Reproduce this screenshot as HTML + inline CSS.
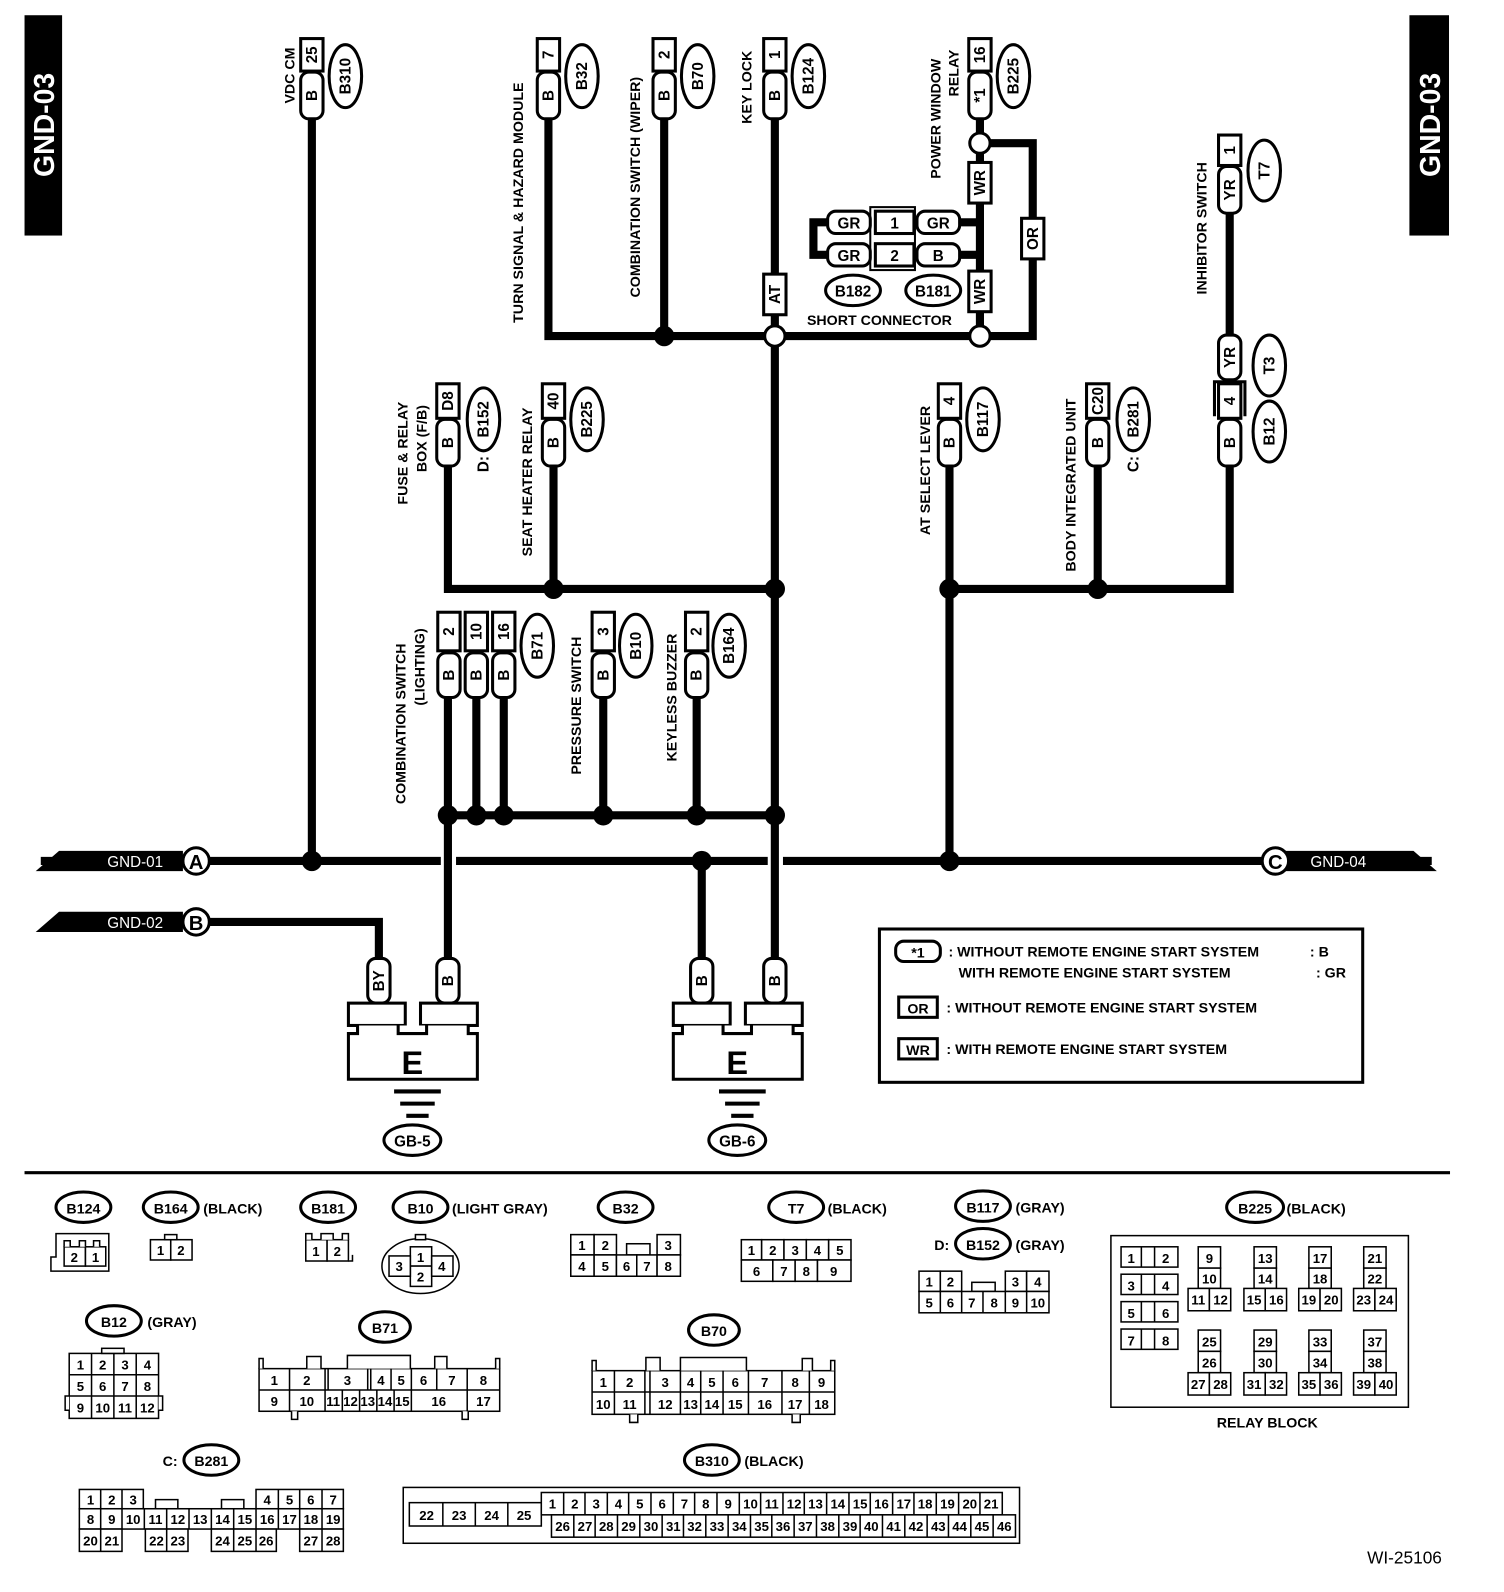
<!DOCTYPE html>
<html><head><meta charset="utf-8"><style>
html,body{margin:0;padding:0;background:#fff}
svg{display:block}
text{font-family:"Liberation Sans",sans-serif;font-weight:bold;fill:#000}
</style></head><body>
<svg width="1504" height="1592" viewBox="0 0 1481 1568" xmlns="http://www.w3.org/2000/svg">
<defs><style>
.w{stroke:#000;stroke-width:8;fill:none}
.b{fill:#fff;stroke:#000;stroke-width:3}
.t{font-size:15px}
.s{font-size:14px}
.c{fill:#fff;stroke:#000;stroke-width:1.5}
.cs{font-size:13px;font-weight:normal}
</style></defs>

<!-- GND-03 tabs -->
<rect x="24" y="15" width="37" height="217" fill="#000"/>
<text transform="translate(53,123) rotate(-90)" text-anchor="middle" style="font-size:28px;fill:#fff">GND-03</text>
<rect x="1388" y="15" width="39" height="217" fill="#000"/>
<text transform="translate(1418,123) rotate(-90)" text-anchor="middle" style="font-size:28px;fill:#fff">GND-03</text>

<!-- wires -->
<path class="w" d="M40 848H1410"/>
<rect x="434" y="840" width="15" height="16" fill="#fff"/>
<rect x="756" y="840" width="15" height="16" fill="#fff"/>
<path class="w" d="M206 908H373V945"/>
<path class="w" d="M307 116V848"/>
<path class="w" d="M540 116V331H965"/>
<path class="w" d="M654 116V331"/>
<path class="w" d="M763 116V945"/>
<path class="w" d="M965 116V331"/>
<path class="w" d="M965 141H1017V331H965"/>
<path class="w" d="M441 459V580H763"/>
<path class="w" d="M545 459V580"/>
<path class="w" d="M935 459V848"/>
<path class="w" d="M935 580H1081"/>
<path class="w" d="M1081 459V580H1211V459"/>
<path class="w" d="M1211 210V330"/>
<path class="w" d="M441 687V945"/>
<path class="w" d="M469 687V803"/>
<path class="w" d="M496 687V803"/>
<path class="w" d="M594 687V803"/>
<path class="w" d="M686 687V803"/>
<path class="w" d="M441 803H763"/>
<path class="w" d="M691 848V945"/>
<!-- short connector wires -->
<path class="w" d="M943 219H965"/>
<path class="w" d="M943 251H965"/>
<path class="w" d="M818 219H801V251H818"/>

<!-- dots -->
<g fill="#000">
<circle cx="307" cy="848" r="10"/><circle cx="935" cy="848" r="10"/><circle cx="691" cy="848" r="10"/>
<circle cx="654" cy="331" r="10"/>
<circle cx="545" cy="580" r="10"/><circle cx="763" cy="580" r="10"/>
<circle cx="935" cy="580" r="10"/><circle cx="1081" cy="580" r="10"/>
<circle cx="441" cy="803" r="10"/><circle cx="469" cy="803" r="10"/><circle cx="496" cy="803" r="10"/>
<circle cx="594" cy="803" r="10"/><circle cx="686" cy="803" r="10"/><circle cx="763" cy="803" r="10"/>
</g>
<circle cx="763" cy="331" r="10" class="b"/>
<circle cx="965" cy="331" r="10" class="b"/>
<circle cx="965" cy="141" r="10" class="b"/>

<!-- GND banners -->
<polygon points="35,858 58,838 180,838 180,858" fill="#000"/>
<text x="133" y="854" text-anchor="middle" style="font-size:15px;fill:#fff;font-weight:normal">GND-01</text>
<circle cx="193" cy="848" r="13" class="b"/><text x="193" y="856" text-anchor="middle" style="font-size:20px">A</text>
<polygon points="35,918 58,898 180,898 180,918" fill="#000"/>
<text x="133" y="914" text-anchor="middle" style="font-size:15px;fill:#fff;font-weight:normal">GND-02</text>
<circle cx="193" cy="908" r="13" class="b"/><text x="193" y="916" text-anchor="middle" style="font-size:20px">B</text>
<polygon points="1256,838 1392,838 1415,858 1256,858" fill="#000"/>
<text x="1318" y="854" text-anchor="middle" style="font-size:15px;fill:#fff;font-weight:normal">GND-04</text>
<circle cx="1256" cy="848" r="13" class="b"/><text x="1256" y="856" text-anchor="middle" style="font-size:20px">C</text>

<!-- top connectors -->
<g class="t">
<rect x="296" y="38" width="22" height="32" class="b"/><text transform="translate(312,54) rotate(-90)" text-anchor="middle">25</text>
<rect x="296" y="71" width="22" height="46" rx="8" class="b"/><text transform="translate(312,94) rotate(-90)" text-anchor="middle">B</text>
<ellipse cx="340" cy="75" rx="16" ry="31" class="b"/><text transform="translate(345,75) rotate(-90)" text-anchor="middle">B310</text>
<text transform="translate(290,102) rotate(-90)" class="s">VDC CM</text>
<rect x="529" y="38" width="22" height="32" class="b"/><text transform="translate(545,54) rotate(-90)" text-anchor="middle">7</text>
<rect x="529" y="71" width="22" height="46" rx="8" class="b"/><text transform="translate(545,94) rotate(-90)" text-anchor="middle">B</text>
<ellipse cx="573" cy="75" rx="16" ry="31" class="b"/><text transform="translate(578,75) rotate(-90)" text-anchor="middle">B32</text>
<text transform="translate(515,318) rotate(-90)" class="s">TURN SIGNAL &amp; HAZARD MODULE</text>
<rect x="643" y="38" width="22" height="32" class="b"/><text transform="translate(659,54) rotate(-90)" text-anchor="middle">2</text>
<rect x="643" y="71" width="22" height="46" rx="8" class="b"/><text transform="translate(659,94) rotate(-90)" text-anchor="middle">B</text>
<ellipse cx="687" cy="75" rx="16" ry="31" class="b"/><text transform="translate(692,75) rotate(-90)" text-anchor="middle">B70</text>
<text transform="translate(630,293) rotate(-90)" class="s">COMBINATION SWITCH (WIPER)</text>
<rect x="752" y="38" width="22" height="32" class="b"/><text transform="translate(768,54) rotate(-90)" text-anchor="middle">1</text>
<rect x="752" y="71" width="22" height="46" rx="8" class="b"/><text transform="translate(768,94) rotate(-90)" text-anchor="middle">B</text>
<ellipse cx="796" cy="75" rx="16" ry="31" class="b"/><text transform="translate(801,75) rotate(-90)" text-anchor="middle">B124</text>
<text transform="translate(740,122) rotate(-90)" class="s">KEY LOCK</text>
<rect x="954" y="38" width="22" height="32" class="b"/><text transform="translate(970,54) rotate(-90)" text-anchor="middle">16</text>
<rect x="954" y="71" width="22" height="46" rx="8" class="b"/><text transform="translate(970,94) rotate(-90)" text-anchor="middle">*1</text>
<ellipse cx="998" cy="75" rx="16" ry="31" class="b"/><text transform="translate(1003,75) rotate(-90)" text-anchor="middle">B225</text>
<text transform="translate(926,176) rotate(-90)" class="s">POWER WINDOW</text>
<text transform="translate(944,95) rotate(-90)" class="s">RELAY</text>

<rect x="954" y="160" width="22" height="40" class="b"/><text transform="translate(970,180) rotate(-90)" text-anchor="middle">WR</text>
<rect x="954" y="267" width="22" height="40" class="b"/><text transform="translate(970,287) rotate(-90)" text-anchor="middle">WR</text>
<rect x="1006" y="215" width="22" height="40" class="b"/><text transform="translate(1022,235) rotate(-90)" text-anchor="middle">OR</text>
<rect x="752" y="270" width="22" height="40" class="b"/><text transform="translate(768,290) rotate(-90)" text-anchor="middle">AT</text>

<rect x="857" y="204" width="44" height="62" fill="#fff" stroke="#000" stroke-width="2"/>
<rect x="862" y="208" width="38" height="22" class="b"/><text x="881" y="225" text-anchor="middle">1</text>
<rect x="862" y="240" width="38" height="22" class="b"/><text x="881" y="257" text-anchor="middle">2</text>
<rect x="815" y="208" width="42" height="22" rx="8" class="b"/><text x="836" y="225" text-anchor="middle">GR</text>
<rect x="815" y="240" width="42" height="22" rx="8" class="b"/><text x="836" y="257" text-anchor="middle">GR</text>
<rect x="903" y="208" width="42" height="22" rx="8" class="b"/><text x="924" y="225" text-anchor="middle">GR</text>
<rect x="903" y="240" width="42" height="22" rx="8" class="b"/><text x="924" y="257" text-anchor="middle">B</text>
<ellipse cx="840" cy="286" rx="27" ry="15" class="b"/><text x="840" y="292" text-anchor="middle">B182</text>
<ellipse cx="919" cy="286" rx="27" ry="15" class="b"/><text x="919" y="292" text-anchor="middle">B181</text>
<text x="866" y="320" text-anchor="middle" class="s">SHORT CONNECTOR</text>

<rect x="430" y="378" width="22" height="34" class="b"/><text transform="translate(446,395) rotate(-90)" text-anchor="middle">D8</text>
<rect x="430" y="413" width="22" height="46" rx="8" class="b"/><text transform="translate(446,436) rotate(-90)" text-anchor="middle">B</text>
<ellipse cx="476" cy="413" rx="16" ry="31" class="b"/><text transform="translate(481,413) rotate(-90)" text-anchor="middle">B152</text>
<text transform="translate(481,465) rotate(-90)">D:</text>
<text transform="translate(401,497) rotate(-90)" class="s">FUSE &amp; RELAY</text>
<text transform="translate(420,465) rotate(-90)" class="s">BOX (F/B)</text>

<rect x="534" y="378" width="22" height="34" class="b"/><text transform="translate(550,395) rotate(-90)" text-anchor="middle">40</text>
<rect x="534" y="413" width="22" height="46" rx="8" class="b"/><text transform="translate(550,436) rotate(-90)" text-anchor="middle">B</text>
<ellipse cx="578" cy="413" rx="16" ry="31" class="b"/><text transform="translate(583,413) rotate(-90)" text-anchor="middle">B225</text>
<text transform="translate(524,548) rotate(-90)" class="s">SEAT HEATER RELAY</text>

<rect x="924" y="378" width="22" height="34" class="b"/><text transform="translate(940,395) rotate(-90)" text-anchor="middle">4</text>
<rect x="924" y="413" width="22" height="46" rx="8" class="b"/><text transform="translate(940,436) rotate(-90)" text-anchor="middle">B</text>
<ellipse cx="968" cy="413" rx="16" ry="31" class="b"/><text transform="translate(973,413) rotate(-90)" text-anchor="middle">B117</text>
<text transform="translate(916,527) rotate(-90)" class="s">AT SELECT LEVER</text>

<rect x="1070" y="378" width="22" height="34" class="b"/><text transform="translate(1086,395) rotate(-90)" text-anchor="middle">C20</text>
<rect x="1070" y="413" width="22" height="46" rx="8" class="b"/><text transform="translate(1086,436) rotate(-90)" text-anchor="middle">B</text>
<ellipse cx="1116" cy="413" rx="16" ry="31" class="b"/><text transform="translate(1121,413) rotate(-90)" text-anchor="middle">B281</text>
<text transform="translate(1121,465) rotate(-90)">C:</text>
<text transform="translate(1059,563) rotate(-90)" class="s">BODY INTEGRATED UNIT</text>

<rect x="1200" y="133" width="22" height="30" class="b"/><text transform="translate(1216,148) rotate(-90)" text-anchor="middle">1</text>
<rect x="1200" y="164" width="22" height="46" rx="8" class="b"/><text transform="translate(1216,187) rotate(-90)" text-anchor="middle">YR</text>
<ellipse cx="1245" cy="168" rx="16" ry="30" class="b"/><text transform="translate(1250,168) rotate(-90)" text-anchor="middle">T7</text>
<text transform="translate(1188,290) rotate(-90)" class="s">INHIBITOR SWITCH</text>
<rect x="1200" y="330" width="22" height="44" rx="8" class="b"/><text transform="translate(1216,352) rotate(-90)" text-anchor="middle">YR</text>
<path d="M1196 410V376H1226V410" fill="none" stroke="#000" stroke-width="3"/>
<rect x="1200" y="378" width="22" height="34" class="b"/><text transform="translate(1216,395) rotate(-90)" text-anchor="middle">4</text>
<rect x="1200" y="413" width="22" height="46" rx="8" class="b"/><text transform="translate(1216,436) rotate(-90)" text-anchor="middle">B</text>
<ellipse cx="1250" cy="360" rx="16" ry="30" class="b"/><text transform="translate(1255,360) rotate(-90)" text-anchor="middle">T3</text>
<ellipse cx="1250" cy="425" rx="16" ry="30" class="b"/><text transform="translate(1255,425) rotate(-90)" text-anchor="middle">B12</text>

<rect x="431" y="603" width="22" height="38" class="b"/><text transform="translate(447,622) rotate(-90)" text-anchor="middle">2</text>
<rect x="458" y="603" width="22" height="38" class="b"/><text transform="translate(474,622) rotate(-90)" text-anchor="middle">10</text>
<rect x="485" y="603" width="22" height="38" class="b"/><text transform="translate(501,622) rotate(-90)" text-anchor="middle">16</text>
<rect x="431" y="643" width="22" height="44" rx="8" class="b"/><text transform="translate(447,665) rotate(-90)" text-anchor="middle">B</text>
<rect x="458" y="643" width="22" height="44" rx="8" class="b"/><text transform="translate(474,665) rotate(-90)" text-anchor="middle">B</text>
<rect x="485" y="643" width="22" height="44" rx="8" class="b"/><text transform="translate(501,665) rotate(-90)" text-anchor="middle">B</text>
<ellipse cx="529" cy="636" rx="16" ry="31" class="b"/><text transform="translate(534,636) rotate(-90)" text-anchor="middle">B71</text>
<text transform="translate(399,792) rotate(-90)" class="s">COMBINATION SWITCH</text>
<text transform="translate(418,695) rotate(-90)" class="s">(LIGHTING)</text>

<rect x="583" y="603" width="22" height="38" class="b"/><text transform="translate(599,622) rotate(-90)" text-anchor="middle">3</text>
<rect x="583" y="643" width="22" height="44" rx="8" class="b"/><text transform="translate(599,665) rotate(-90)" text-anchor="middle">B</text>
<ellipse cx="626" cy="636" rx="16" ry="31" class="b"/><text transform="translate(631,636) rotate(-90)" text-anchor="middle">B10</text>
<text transform="translate(572,763) rotate(-90)" class="s">PRESSURE SWITCH</text>

<rect x="675" y="603" width="22" height="38" class="b"/><text transform="translate(691,622) rotate(-90)" text-anchor="middle">2</text>
<rect x="675" y="643" width="22" height="44" rx="8" class="b"/><text transform="translate(691,665) rotate(-90)" text-anchor="middle">B</text>
<ellipse cx="718" cy="636" rx="16" ry="31" class="b"/><text transform="translate(723,636) rotate(-90)" text-anchor="middle">B164</text>
<text transform="translate(666,750) rotate(-90)" class="s">KEYLESS BUZZER</text>

<rect x="362" y="944" width="22" height="44" rx="8" class="b"/><text transform="translate(378,966) rotate(-90)" text-anchor="middle">BY</text>
<rect x="430" y="944" width="22" height="44" rx="8" class="b"/><text transform="translate(446,966) rotate(-90)" text-anchor="middle">B</text>
<rect x="680" y="944" width="22" height="44" rx="8" class="b"/><text transform="translate(696,966) rotate(-90)" text-anchor="middle">B</text>
<rect x="752" y="944" width="22" height="44" rx="8" class="b"/><text transform="translate(768,966) rotate(-90)" text-anchor="middle">B</text>
</g>

<g>
<rect x="343" y="988" width="56" height="22" class="b"/><rect x="414" y="988" width="56" height="22" class="b"/>
<path d="M352 1010v8h-9v45h127v-45h-9v-8M392 1010v8h28v-8" class="b"/>
<text x="406" y="1058" text-anchor="middle" style="font-size:32px">E</text>
<path d="M388 1075h46M394 1087h34M400 1099h22" stroke="#000" stroke-width="4"/>
<ellipse cx="406" cy="1123" rx="28" ry="15" class="b"/><text x="406" y="1129" text-anchor="middle" class="t">GB-5</text>

<rect x="663" y="988" width="56" height="22" class="b"/><rect x="734" y="988" width="56" height="22" class="b"/>
<path d="M672 1010v8h-9v45h127v-45h-9v-8M712 1010v8h28v-8" class="b"/>
<text x="726" y="1058" text-anchor="middle" style="font-size:32px">E</text>
<path d="M708 1075h46M714 1087h34M720 1099h22" stroke="#000" stroke-width="4"/>
<ellipse cx="726" cy="1123" rx="28" ry="15" class="b"/><text x="726" y="1129" text-anchor="middle" class="t">GB-6</text>
</g>

<rect x="866" y="915" width="476" height="151" fill="#fff" stroke="#000" stroke-width="3"/>
<rect x="882" y="927" width="44" height="20" rx="8" class="b"/><text x="904" y="943" text-anchor="middle" class="s">*1</text>
<text x="934" y="942" class="s">: WITHOUT REMOTE ENGINE START SYSTEM</text><text x="1290" y="942" class="s">: B</text>
<text x="944" y="963" class="s">WITH REMOTE ENGINE START SYSTEM</text><text x="1296" y="963" class="s">: GR</text>
<rect x="885" y="982" width="38" height="20" class="b"/><text x="904" y="998" text-anchor="middle" class="s">OR</text>
<text x="932" y="997" class="s">: WITHOUT REMOTE ENGINE START SYSTEM</text>
<rect x="885" y="1023" width="38" height="20" class="b"/><text x="904" y="1039" text-anchor="middle" class="s">WR</text>
<text x="932" y="1038" class="s">: WITH REMOTE ENGINE START SYSTEM</text>

<path d="M24 1155H1428" stroke="#000" stroke-width="3"/>

<g class="s">
<ellipse cx="82" cy="1189" rx="27" ry="15" class="b"/><text x="82" y="1195" text-anchor="middle">B124</text>
<ellipse cx="168" cy="1189" rx="27" ry="15" class="b"/><text x="168" y="1195" text-anchor="middle">B164</text><text x="200" y="1195">(BLACK)</text>
<ellipse cx="323" cy="1189" rx="27" ry="15" class="b"/><text x="323" y="1195" text-anchor="middle">B181</text>
<ellipse cx="414" cy="1189" rx="27" ry="15" class="b"/><text x="414" y="1195" text-anchor="middle">B10</text><text x="445" y="1195">(LIGHT GRAY)</text>
<ellipse cx="616" cy="1189" rx="27" ry="15" class="b"/><text x="616" y="1195" text-anchor="middle">B32</text>
<ellipse cx="784" cy="1189" rx="27" ry="15" class="b"/><text x="784" y="1195" text-anchor="middle">T7</text><text x="815" y="1195">(BLACK)</text>
<ellipse cx="968" cy="1188" rx="27" ry="15" class="b"/><text x="968" y="1194" text-anchor="middle">B117</text><text x="1000" y="1194">(GRAY)</text>
<text x="920" y="1231">D:</text>
<ellipse cx="968" cy="1225" rx="27" ry="15" class="b"/><text x="968" y="1231" text-anchor="middle">B152</text><text x="1000" y="1231">(GRAY)</text>
<ellipse cx="1236" cy="1189" rx="28" ry="15" class="b"/><text x="1236" y="1195" text-anchor="middle">B225</text><text x="1267" y="1195">(BLACK)</text>
<ellipse cx="112" cy="1301" rx="27" ry="15" class="b"/><text x="112" y="1307" text-anchor="middle">B12</text><text x="145" y="1307">(GRAY)</text>
<ellipse cx="379" cy="1307" rx="25" ry="15" class="b"/><text x="379" y="1313" text-anchor="middle">B71</text>
<ellipse cx="703" cy="1310" rx="25" ry="15" class="b"/><text x="703" y="1316" text-anchor="middle">B70</text>
<text x="160" y="1444">C:</text>
<ellipse cx="208" cy="1438" rx="27" ry="15" class="b"/><text x="208" y="1444" text-anchor="middle">B281</text>
<ellipse cx="701" cy="1438" rx="27" ry="15" class="b"/><text x="701" y="1444" text-anchor="middle">B310</text><text x="733" y="1444">(BLACK)</text>
<text x="1248" y="1406" text-anchor="middle">RELAY BLOCK</text>
<text x="1420" y="1540" text-anchor="end" style="font-weight:normal;font-size:17px">WI-25106</text>
</g>

<g class="cs" text-anchor="middle">
<path d="M55 1215h52v37H50v-14h5z" class="c"/>
<rect x="63" y="1228" width="21" height="19" class="c"/><rect x="84" y="1228" width="20" height="19" class="c"/>
<path d="M63 1228v-6h6v6M78 1228v-6h6v6M92 1228v-6h6v6" class="c"/>
<text x="73" y="1243">2</text><text x="94" y="1243">1</text>
<rect x="148" y="1221" width="20" height="20" class="c"/><rect x="168" y="1221" width="21" height="20" class="c"/><rect x="162" y="1216" width="12" height="5" class="c"/>
<text x="158" y="1236">1</text><text x="178" y="1236">2</text>
<rect x="301" y="1221" width="21" height="21" class="c"/><rect x="322" y="1221" width="21" height="21" class="c"/>
<path d="M301 1221v-6h6v6M316 1221v-6h12v6M337 1221v-6h6v6M343 1242h4v-6" class="c"/>
<text x="311" y="1237">1</text><text x="332" y="1237">2</text>
<ellipse cx="414" cy="1247" rx="38" ry="27" class="c"/><rect x="409" y="1216" width="10" height="5" class="c"/>
<rect x="404" y="1228" width="21" height="19" class="c"/><rect x="404" y="1247" width="21" height="20" class="c"/>
<rect x="383" y="1237" width="21" height="20" class="c"/><rect x="425" y="1237" width="21" height="20" class="c"/>
<text x="414" y="1243">1</text><text x="414" y="1262">2</text><text x="393" y="1252">3</text><text x="435" y="1252">4</text>
<rect x="562" y="1216" width="23" height="20" class="c"/><rect x="585" y="1216" width="22" height="20" class="c"/><rect x="617" y="1225" width="23" height="11" class="c"/><rect x="647" y="1216" width="23" height="20" class="c"/>
<rect x="562" y="1236" width="23" height="21" class="c"/><rect x="585" y="1236" width="22" height="21" class="c"/><rect x="607" y="1236" width="20" height="21" class="c"/><rect x="627" y="1236" width="20" height="21" class="c"/><rect x="647" y="1236" width="23" height="21" class="c"/>
<text x="573" y="1231">1</text><text x="596" y="1231">2</text><text x="658" y="1231">3</text>
<text x="573" y="1252">4</text><text x="596" y="1252">5</text><text x="617" y="1252">6</text><text x="637" y="1252">7</text><text x="658" y="1252">8</text>
<rect x="730" y="1221" width="20" height="20" class="c"/><rect x="750" y="1221" width="22" height="20" class="c"/><rect x="772" y="1221" width="22" height="20" class="c"/><rect x="794" y="1221" width="22" height="20" class="c"/><rect x="816" y="1221" width="22" height="20" class="c"/>
<rect x="730" y="1241" width="31" height="21" class="c"/><rect x="761" y="1241" width="22" height="21" class="c"/><rect x="783" y="1241" width="22" height="21" class="c"/><rect x="805" y="1241" width="33" height="21" class="c"/>
<text x="740" y="1236">1</text><text x="761" y="1236">2</text><text x="783" y="1236">3</text><text x="805" y="1236">4</text><text x="827" y="1236">5</text>
<text x="745" y="1257">6</text><text x="772" y="1257">7</text><text x="794" y="1257">8</text><text x="821" y="1257">9</text>
<rect x="905" y="1252" width="21" height="20" class="c"/><rect x="926" y="1252" width="21" height="20" class="c"/><rect x="957" y="1263" width="23" height="9" class="c"/><rect x="990" y="1252" width="21" height="20" class="c"/><rect x="1011" y="1252" width="22" height="20" class="c"/>
<text x="915" y="1267">1</text><text x="936" y="1267">2</text><text x="1000" y="1267">3</text><text x="1022" y="1267">4</text>
<rect x="905" y="1272" width="128" height="21" class="c"/>
<path d="M926 1272v21M947 1272v21M968 1272v21M990 1272v21M1011 1272v21" class="c"/>
<text x="915" y="1288">5</text><text x="936" y="1288">6</text><text x="957" y="1288">7</text><text x="979" y="1288">8</text><text x="1000" y="1288">9</text><text x="1022" y="1288">10</text>
<rect x="1094" y="1217" width="293" height="169" class="c"/>
<rect x="1104" y="1228" width="56" height="20" class="c"/><rect x="1104" y="1255" width="56" height="20" class="c"/><rect x="1104" y="1282" width="56" height="20" class="c"/><rect x="1104" y="1309" width="56" height="20" class="c"/>
<path d="M1124 1228v20M1137 1228v20M1124 1255v20M1137 1255v20M1124 1282v20M1137 1282v20M1124 1309v20M1137 1309v20" class="c"/>
<text x="1114" y="1244">1</text><text x="1148" y="1244">2</text><text x="1114" y="1271">3</text><text x="1148" y="1271">4</text><text x="1114" y="1298">5</text><text x="1148" y="1298">6</text><text x="1114" y="1325">7</text><text x="1148" y="1325">8</text>
<g>
<rect x="1180" y="1228" width="22" height="21" class="c"/><rect x="1180" y="1249" width="22" height="20" class="c"/><rect x="1170" y="1269" width="21" height="22" class="c"/><rect x="1191" y="1269" width="21" height="22" class="c"/>
<text x="1191" y="1244">9</text><text x="1191" y="1264">10</text><text x="1180" y="1285">11</text><text x="1202" y="1285">12</text>
<rect x="1235" y="1228" width="22" height="21" class="c"/><rect x="1235" y="1249" width="22" height="20" class="c"/><rect x="1225" y="1269" width="21" height="22" class="c"/><rect x="1246" y="1269" width="21" height="22" class="c"/>
<text x="1246" y="1244">13</text><text x="1246" y="1264">14</text><text x="1235" y="1285">15</text><text x="1257" y="1285">16</text>
<rect x="1289" y="1228" width="22" height="21" class="c"/><rect x="1289" y="1249" width="22" height="20" class="c"/><rect x="1279" y="1269" width="21" height="22" class="c"/><rect x="1300" y="1269" width="21" height="22" class="c"/>
<text x="1300" y="1244">17</text><text x="1300" y="1264">18</text><text x="1289" y="1285">19</text><text x="1311" y="1285">20</text>
<rect x="1343" y="1228" width="22" height="21" class="c"/><rect x="1343" y="1249" width="22" height="20" class="c"/><rect x="1333" y="1269" width="21" height="22" class="c"/><rect x="1354" y="1269" width="21" height="22" class="c"/>
<text x="1354" y="1244">21</text><text x="1354" y="1264">22</text><text x="1343" y="1285">23</text><text x="1365" y="1285">24</text>
<rect x="1180" y="1310" width="22" height="21" class="c"/><rect x="1180" y="1331" width="22" height="21" class="c"/><rect x="1170" y="1352" width="21" height="22" class="c"/><rect x="1191" y="1352" width="21" height="22" class="c"/>
<text x="1191" y="1326">25</text><text x="1191" y="1347">26</text><text x="1180" y="1368">27</text><text x="1202" y="1368">28</text>
<rect x="1235" y="1310" width="22" height="21" class="c"/><rect x="1235" y="1331" width="22" height="21" class="c"/><rect x="1225" y="1352" width="21" height="22" class="c"/><rect x="1246" y="1352" width="21" height="22" class="c"/>
<text x="1246" y="1326">29</text><text x="1246" y="1347">30</text><text x="1235" y="1368">31</text><text x="1257" y="1368">32</text>
<rect x="1289" y="1310" width="22" height="21" class="c"/><rect x="1289" y="1331" width="22" height="21" class="c"/><rect x="1279" y="1352" width="21" height="22" class="c"/><rect x="1300" y="1352" width="21" height="22" class="c"/>
<text x="1300" y="1326">33</text><text x="1300" y="1347">34</text><text x="1289" y="1368">35</text><text x="1311" y="1368">36</text>
<rect x="1343" y="1310" width="22" height="21" class="c"/><rect x="1343" y="1331" width="22" height="21" class="c"/><rect x="1333" y="1352" width="21" height="22" class="c"/><rect x="1354" y="1352" width="21" height="22" class="c"/>
<text x="1354" y="1326">37</text><text x="1354" y="1347">38</text><text x="1343" y="1368">39</text><text x="1365" y="1368">40</text>
</g>
<rect x="68" y="1333" width="88" height="64" class="c"/><rect x="100" y="1328" width="22" height="5" class="c"/>
<path d="M90 1333v64M112 1333v64M134 1333v64M68 1354h88M68 1375h88M68 1375h-4v14h4M156 1375h4v14h-4" class="c"/>
<text x="79" y="1349">1</text><text x="101" y="1349">2</text><text x="123" y="1349">3</text><text x="145" y="1349">4</text>
<text x="79" y="1370">5</text><text x="101" y="1370">6</text><text x="123" y="1370">7</text><text x="145" y="1370">8</text>
<text x="79" y="1391">9</text><text x="101" y="1391">10</text><text x="123" y="1391">11</text><text x="145" y="1391">12</text>
<rect x="255" y="1348" width="237" height="42" class="c"/>
<path d="M255 1348v-10h4v10M488 1348v-10h4v10M302 1348v-12h14v12M342 1348v-13h62v13M428 1348v-12h12v12M287 1390v8h6v-8M455 1390v8h6v-8" class="c"/>
<path d="M255 1369h237M285 1348v42M320 1348v42M323 1348v21M362 1348v21M365 1348v21M385 1348v21M405 1348v42M430 1348v21M460 1348v42M337 1369v21M354 1369v21M371 1369v21M388 1369v21" class="c"/>
<text x="270" y="1364">1</text><text x="302" y="1364">2</text><text x="342" y="1364">3</text><text x="375" y="1364">4</text><text x="395" y="1364">5</text><text x="417" y="1364">6</text><text x="445" y="1364">7</text><text x="476" y="1364">8</text>
<text x="270" y="1385">9</text><text x="302" y="1385">10</text><text x="328" y="1385">11</text><text x="345" y="1385">12</text><text x="362" y="1385">13</text><text x="379" y="1385">14</text><text x="396" y="1385">15</text><text x="432" y="1385">16</text><text x="476" y="1385">17</text>
<rect x="583" y="1350" width="239" height="43" class="c"/>
<path d="M583 1350v-10h4v10M818 1350v-10h4v10M636 1350v-13h14v13M670 1350v-13h65v13M790 1350v-12h10v12M620 1393v8h8v-8M780 1393v8h8v-8" class="c"/>
<path d="M583 1371h239M605 1350v43M635 1350v43M640 1350v43M670 1350v43M690 1350v43M712 1350v43M737 1350v43M770 1350v43M797 1350v43" class="c"/>
<text x="594" y="1366">1</text><text x="620" y="1366">2</text><text x="655" y="1366">3</text><text x="680" y="1366">4</text><text x="701" y="1366">5</text><text x="724" y="1366">6</text><text x="753" y="1366">7</text><text x="783" y="1366">8</text><text x="809" y="1366">9</text>
<text x="594" y="1388">10</text><text x="620" y="1388">11</text><text x="655" y="1388">12</text><text x="680" y="1388">13</text><text x="701" y="1388">14</text><text x="724" y="1388">15</text><text x="753" y="1388">16</text><text x="783" y="1388">17</text><text x="809" y="1388">18</text>
<rect x="78" y="1467" width="63" height="19" class="c"/><rect x="252" y="1467" width="86" height="19" class="c"/>
<path d="M99 1467v19M120 1467v19M274 1467v19M295 1467v19M317 1467v19M153 1486v-9h22v9M218 1486v-9h22v9" class="c"/>
<rect x="78" y="1486" width="260" height="20" class="c"/>
<path d="M99 1486v20M120 1486v20M142 1486v20M164 1486v20M186 1486v20M208 1486v20M230 1486v20M252 1486v20M274 1486v20M295 1486v20M317 1486v20" class="c"/>
<rect x="78" y="1506" width="42" height="22" class="c"/><rect x="143" y="1506" width="42" height="22" class="c"/><rect x="208" y="1506" width="64" height="22" class="c"/><rect x="295" y="1506" width="43" height="22" class="c"/>
<path d="M99 1506v22M164 1506v22M230 1506v22M252 1506v22M317 1506v22" class="c"/>
<text x="89" y="1482">1</text><text x="110" y="1482">2</text><text x="131" y="1482">3</text><text x="263" y="1482">4</text><text x="285" y="1482">5</text><text x="306" y="1482">6</text><text x="328" y="1482">7</text>
<text x="89" y="1501">8</text><text x="110" y="1501">9</text><text x="131" y="1501">10</text><text x="153" y="1501">11</text><text x="175" y="1501">12</text><text x="197" y="1501">13</text><text x="219" y="1501">14</text><text x="241" y="1501">15</text><text x="263" y="1501">16</text><text x="285" y="1501">17</text><text x="306" y="1501">18</text><text x="328" y="1501">19</text>
<text x="89" y="1522">20</text><text x="110" y="1522">21</text><text x="154" y="1522">22</text><text x="175" y="1522">23</text><text x="219" y="1522">24</text><text x="241" y="1522">25</text><text x="262" y="1522">26</text><text x="306" y="1522">27</text><text x="328" y="1522">28</text>
<rect x="397" y="1465" width="607" height="55" class="c"/>
<rect x="403" y="1480" width="130" height="23" class="c"/>
<path d="M436 1480v23M468 1480v23M500 1480v23" class="c"/>
<text x="420" y="1497">22</text><text x="452" y="1497">23</text><text x="484" y="1497">24</text><text x="516" y="1497">25</text>
<rect x="533" y="1470" width="454" height="22" class="c"/>
<rect x="543" y="1492" width="457" height="22" class="c"/>
<path d="M555 1470v22M576 1470v22M598 1470v22M619 1470v22M641 1470v22M663 1470v22M684 1470v22M706 1470v22M728 1470v22M749 1470v22M771 1470v22M792 1470v22M814 1470v22M836 1470v22M857 1470v22M879 1470v22M900 1470v22M922 1470v22M944 1470v22M965 1470v22" class="c"/>
<path d="M565 1492v22M586 1492v22M608 1492v22M630 1492v22M652 1492v22M673 1492v22M695 1492v22M717 1492v22M739 1492v22M760 1492v22M782 1492v22M804 1492v22M826 1492v22M847 1492v22M869 1492v22M891 1492v22M913 1492v22M934 1492v22M956 1492v22M978 1492v22" class="c"/>
<text x="544" y="1486">1</text><text x="566" y="1486">2</text><text x="587" y="1486">3</text><text x="609" y="1486">4</text><text x="630" y="1486">5</text><text x="652" y="1486">6</text><text x="674" y="1486">7</text><text x="695" y="1486">8</text><text x="717" y="1486">9</text><text x="739" y="1486">10</text><text x="760" y="1486">11</text><text x="782" y="1486">12</text><text x="803" y="1486">13</text><text x="825" y="1486">14</text><text x="847" y="1486">15</text><text x="868" y="1486">16</text><text x="890" y="1486">17</text><text x="911" y="1486">18</text><text x="933" y="1486">19</text><text x="955" y="1486">20</text><text x="976" y="1486">21</text>
<text x="554" y="1508">26</text><text x="576" y="1508">27</text><text x="597" y="1508">28</text><text x="619" y="1508">29</text><text x="641" y="1508">30</text><text x="663" y="1508">31</text><text x="684" y="1508">32</text><text x="706" y="1508">33</text><text x="728" y="1508">34</text><text x="750" y="1508">35</text><text x="771" y="1508">36</text><text x="793" y="1508">37</text><text x="815" y="1508">38</text><text x="837" y="1508">39</text><text x="858" y="1508">40</text><text x="880" y="1508">41</text><text x="902" y="1508">42</text><text x="924" y="1508">43</text><text x="945" y="1508">44</text><text x="967" y="1508">45</text><text x="989" y="1508">46</text>
</g>
</svg>
</body></html>
